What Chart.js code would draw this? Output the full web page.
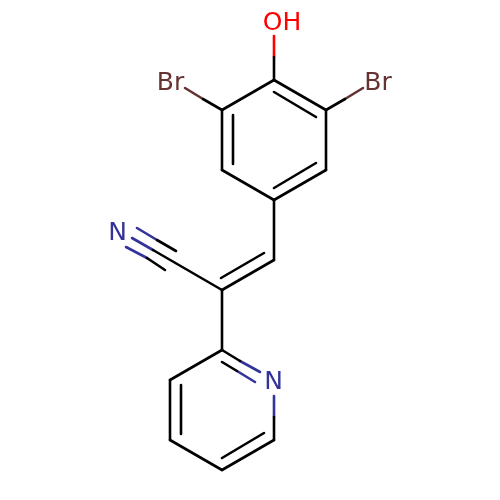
<!DOCTYPE html>
<html>
<head>
<meta charset="utf-8">
<title>Molecule</title>
<script src="https://cdn.jsdelivr.net/npm/chart.js@4/dist/chart.umd.min.js"></script>
<style>
  html, body { margin: 0; padding: 0; background: #fff; }
  canvas { display: block; }
</style>
</head>
<body>
<canvas id="chart" width="500" height="500"></canvas>
<script>
// bonds as x1, y1, x2, y2 in plot units (y grows downwards), one list per element colour
const carbonBonds = [
  [274, 80, 326, 110], [326, 110, 326, 170], [326, 170, 274, 200],
  [274, 200, 222, 170], [222, 170, 222, 110], [222, 110, 274, 80],
  [274, 92, 316, 117], [233, 115, 233, 164], [274, 188, 316, 163],
  [274, 57, 274, 80], [222, 110, 203, 99], [326, 110, 345, 99],
  [274, 200, 274, 260], [274, 260, 222, 290], [264, 253, 221, 278],
  [222, 290, 153, 250], [176, 251, 157, 240], [165, 270, 147, 258],
  [222, 290, 222, 350], [222, 350, 170, 380], [170, 380, 170, 440],
  [170, 440, 222, 470], [222, 470, 274, 440], [181, 385, 181, 434],
  [264, 433, 222, 458], [222, 350, 240, 361], [222, 362, 237, 371],
  [274, 440, 274, 417]
];
const oxygenBonds = [[274, 57, 274, 36]];
const bromineBonds = [[203, 99, 185, 88], [345, 99, 363, 88]];
const nitrogenBonds = [
  [153, 250, 132, 238], [157, 240, 137, 228], [147, 258, 126, 247],
  [240, 361, 260, 372], [237, 371, 255, 382], [274, 417, 274, 396]
];

const atomLabels = ['OH', 'Br', 'Br', 'N', 'N'];
const atomX = [282, 170.5, 378, 117.5, 273.5];
const atomY = [23, 83, 83, 233, 382];
const atomElements = ['oxygen', 'bromine', 'bromine', 'nitrogen', 'nitrogen'];

const COLORS = { carbon: '#000000', oxygen: '#ff0000', bromine: '#663333', nitrogen: '#333399' };

function bondDatasets(bonds, color) {
  return bonds.map(b => ({
    data: [{ x: b[0], y: b[1] }, { x: b[2], y: b[3] }],
    showLine: true,
    borderColor: color,
    borderWidth: 2.6,
    borderCapStyle: 'round',
    pointRadius: 0,
    pointHoverRadius: 0
  }));
}

// element symbols go through the same scales as the bonds
const atomLabelPlugin = {
  id: 'atomLabels',
  afterDatasetsDraw(chart) {
    const { ctx, scales } = chart;
    ctx.save();
    ctx.font = '25px "DejaVu Sans"';
    ctx.textAlign = 'center';
    ctx.textBaseline = 'middle';
    atomLabels.forEach((label, i) => {
      ctx.fillStyle = COLORS[atomElements[i]];
      ctx.fillText(label, scales.x.getPixelForValue(atomX[i]), scales.y.getPixelForValue(atomY[i]));
    });
    ctx.restore();
  }
};

new Chart(document.getElementById('chart').getContext('2d'), {
  type: 'scatter',
  data: {
    datasets: [
      ...bondDatasets(carbonBonds, COLORS.carbon),
      ...bondDatasets(oxygenBonds, COLORS.oxygen),
      ...bondDatasets(bromineBonds, COLORS.bromine),
      ...bondDatasets(nitrogenBonds, COLORS.nitrogen)
    ]
  },
  options: {
    responsive: false,
    animation: false,
    devicePixelRatio: 1,
    layout: { padding: 0 },
    plugins: { legend: { display: false }, tooltip: { enabled: false } },
    scales: {
      x: { type: 'linear', min: 0, max: 500, display: false },
      y: { type: 'linear', min: 0, max: 500, reverse: true, display: false }
    }
  },
  plugins: [atomLabelPlugin]
});
</script>
</body>
</html>
